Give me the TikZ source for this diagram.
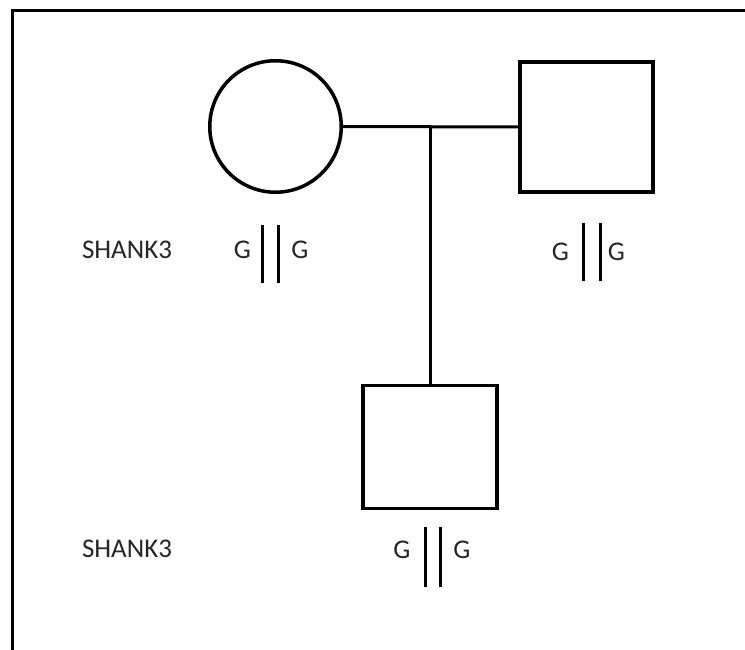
\documentclass[tikz,border=0pt]{standalone}
\usepackage{fontspec}
\setmainfont{Carlito}
\begin{document}
\begin{tikzpicture}[x=1pt,y=-1pt,
  person/.style={draw=black,line width=3.5pt,fill=white,inner sep=0pt},
  link/.style={draw=black,line width=3pt},
  bar/.style={draw=black,line width=3pt},
  lbl/.style={font=\fontsize{27}{31}\selectfont,text=black!85,inner sep=0pt,anchor=center}]
\useasboundingbox (0,0) rectangle (745,650);
\clip (0,0) rectangle (745,650);
\draw[line width=3pt] (12.5,10.5) rectangle (780,700);
% persons
\node[person,circle,minimum size=131.5pt] (mother) at (275.5,126.5) {};
\node[person,rectangle,minimum width=133pt,minimum height=130pt] (father) at (586.5,127) {};
\node[person,rectangle,minimum width=134pt,minimum height=123pt] (child) at (430,447) {};
\coordinate (mid) at (430,126.5);
\draw[link] (mother.east) -- (father.west);
\draw[link] (mid) -- (child.north);
% labels
\node[lbl] (gene1) at (127,250) {SHANK3};
\node[lbl] (gene2) at (127,549) {SHANK3};
\node[lbl] (m1) at (242.5,250) {G};
\node[lbl] (m2) at (300,250) {G};
\node[lbl] (f1) at (560.5,251.5) {G};
\node[lbl] (f2) at (616.5,251.5) {G};
\node[lbl] (c1) at (402,550) {G};
\node[lbl] (c2) at (462,550) {G};
% chromosome bars
\draw[bar] (262,225) -- (262,283);
\draw[bar] (278,225) -- (278,283);
\draw[bar] (583,223) -- (583,281);
\draw[bar] (600,223) -- (600,281);
\draw[bar] (425,527) -- (425,587);
\draw[bar] (440,527) -- (440,587);
\end{tikzpicture}
\end{document}
